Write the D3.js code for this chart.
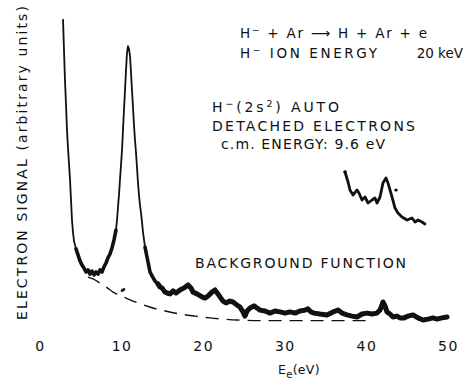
<!DOCTYPE html>
<html>
<head>
<meta charset="utf-8">
<script src="https://cdn.jsdelivr.net/npm/d3@7/dist/d3.min.js"></script>
<style>
  html, body { margin: 0; padding: 0; background: #fff; }
  svg { display: block; }
  text { font-family: "DejaVu Sans", "Liberation Sans", sans-serif; fill: #111; }
</style>
</head>
<body>
<svg id="chart" width="464" height="380"></svg>
<script>
// Electron energy (eV) and electron signal (arbitrary units) of the measured spectrum
const energy = [2.82, 2.94, 3.06, 3.19, 3.31, 3.43, 3.55, 3.68, 3.80, 3.92, 4.04, 4.17, 4.41, 4.66, 4.90, 5.15, 5.39, 5.64, 5.88, 6.13,
  6.37, 6.62, 6.86, 7.11, 7.35, 7.60, 7.84, 8.09, 8.33, 8.58, 8.82, 9.07, 9.31, 9.44, 9.56, 9.68, 9.80, 9.93, 10.05, 10.17,
  10.29, 10.42, 10.54, 10.66, 10.78, 10.91, 11.03, 11.15, 11.27, 11.40, 11.52, 11.64, 11.76, 11.89, 12.01, 12.13, 12.25, 12.38, 12.50, 12.62,
  12.75, 12.87, 12.99, 13.11, 13.24, 13.36, 13.48, 13.73, 14.09, 14.46, 14.71, 14.95, 15.32, 15.56, 15.93, 16.30, 16.67, 17.16, 17.65, 18.14,
  18.50, 18.75, 19.24, 19.85, 20.22, 20.59, 21.08, 21.45, 21.81, 22.06, 22.43, 22.79, 23.28, 23.65, 24.14, 24.51, 24.88, 25.12, 25.37, 25.74,
  26.23, 26.59, 26.96, 27.57, 28.19, 28.80, 29.41, 30.02, 30.64, 31.25, 31.86, 32.48, 32.84, 33.21, 33.58, 34.31, 35.17, 35.91, 36.52, 37.01,
  37.62, 38.24, 38.85, 39.46, 40.07, 40.69, 41.30, 41.67, 41.91, 42.03, 42.28, 42.52, 42.89, 43.26, 43.75, 44.12, 44.61, 45.10, 45.71, 46.32,
  46.94, 47.55, 48.16, 48.65, 49.26, 49.88];
const signal = [100.3, 90.0, 80.0, 71.7, 63.3, 57.3, 52.3, 46.7, 40.0, 33.3, 29.3, 26.3, 23.7, 21.7, 19.7, 18.3, 17.3, 16.0, 16.7, 15.3,
  16.3, 15.0, 16.0, 15.3, 16.7, 16.0, 17.7, 19.0, 20.7, 22.0, 24.0, 26.7, 30.0, 33.3, 37.7, 41.7, 46.7, 51.7, 56.7, 63.3,
  70.0, 76.7, 83.3, 89.0, 91.3, 90.3, 88.0, 82.7, 76.7, 70.7, 65.0, 60.0, 56.0, 50.7, 45.7, 41.7, 38.3, 35.7, 32.7, 29.3,
  26.7, 24.3, 22.7, 21.0, 19.3, 17.7, 16.0, 14.7, 13.0, 12.0, 11.0, 10.7, 9.3, 9.0, 8.7, 9.7, 9.0, 10.0, 10.7, 11.7,
  10.7, 9.3, 8.7, 7.7, 7.3, 8.0, 9.3, 10.0, 8.7, 7.7, 6.3, 5.7, 6.3, 6.0, 5.0, 4.3, 2.7, 1.3, 3.0, 4.0,
  4.7, 4.0, 3.3, 3.0, 2.3, 3.0, 2.7, 2.3, 2.7, 2.3, 3.0, 3.3, 3.7, 2.7, 2.3, 2.0, 1.7, 2.7, 3.3, 2.3,
  1.7, 1.3, 1.0, 2.0, 2.3, 2.0, 2.3, 3.3, 5.0, 6.0, 4.7, 2.7, 2.0, 1.0, 1.3, 0.7, 0.7, 1.3, 1.7, 0.7,
  0.0, 0.3, 0.7, 0.3, 0.7, 1.0];

// Background function (dashed)
const bgEnergy = [5.88, 6.50, 7.35, 8.20, 8.95, 10.0, 11.03, 12.4, 13.85, 15.5, 17.16, 19.0, 20.83, 22.5, 24.14, 27.0, 30.0, 34.0, 37.0, 40.0];
const bgSignal = [14.3, 13.7, 12.3, 10.8, 9.3, 8.0, 6.7, 5.3, 4.0, 2.9, 2.0, 1.3, 0.7, 0.3, 0.0, -0.2, -0.2, -0.2, -0.2, -0.2];

// Magnified view of the 42 eV feature (own signal scale)
const insetEnergy = [37.38, 37.75, 37.99, 38.36, 38.85, 39.09, 39.46, 39.83, 40.20, 40.69, 41.05, 41.30, 41.67, 42.03, 42.40, 42.65, 43.14,
  43.50, 43.87, 44.36, 44.98, 45.59, 45.96, 46.32, 46.81, 47.18];
const insetSignal = [9.67, 8.0, 6.67, 5.83, 6.67, 6.17, 5.0, 5.5, 4.5, 5.0, 5.33, 4.5, 5.5, 7.83, 8.67, 7.83, 5.5,
  3.67, 2.83, 2.17, 1.67, 2.0, 1.33, 1.67, 1.33, 1.0];

const xTicks = [0, 10, 20, 30, 40, 50];

const svg = d3.select("#chart");

const x = d3.scaleLinear().domain([0, 50]).range([40, 448]);
const y = d3.scaleLinear().domain([0, 100]).range([320, 20]);
const yInset = d3.scaleLinear().domain([0, 10]).range([230, 170]);

// X axis: labels only, no axis line or tick marks
const xAxis = svg.append("g")
  .attr("transform", "translate(0,341)")
  .call(d3.axisBottom(x).tickValues(xTicks).tickSize(0).tickPadding(0).tickFormat(d3.format("d")));
xAxis.select(".domain").remove();
xAxis.selectAll("text")
  .style("font-family", "'DejaVu Sans', 'Liberation Sans', sans-serif")
  .style("font-size", "14px")
  .style("letter-spacing", "1.5px")
  .attr("fill", "#111");

// X axis title: E_e (eV)
const xt = svg.append("text")
  .attr("x", 278).attr("y", 374)
  .style("font-size", "12.5px")
  .style("letter-spacing", "0.3px");
xt.append("tspan").text("E");
xt.append("tspan").attr("dy", 4).style("font-size", "10px").text("e");
xt.append("tspan").attr("dy", -4).text("(eV)");

// Y axis title
svg.append("text")
  .attr("transform", "translate(27,163) rotate(-90)")
  .attr("text-anchor", "middle")
  .attr("textLength", 314)
  .attr("lengthAdjust", "spacing")
  .style("font-size", "14px")
  .text("ELECTRON SIGNAL (arbitrary units)");

const pts = energy.map((e, i) => ({ e, s: signal[i] }));
const line = d3.line().x(d => x(d.e)).y(d => y(d.s));

// Background function
svg.append("path")
  .datum(bgEnergy.map((e, i) => ({ e, s: bgSignal[i] })))
  .attr("d", d3.line().x(d => x(d.e)).y(d => y(d.s)).curve(d3.curveMonotoneX))
  .attr("fill", "none")
  .attr("stroke", "#111")
  .attr("stroke-width", 1.4)
  .attr("stroke-dasharray", "13,8");

// Measured spectrum: thin trace for the steep parts
svg.append("path")
  .datum(pts)
  .attr("d", line)
  .attr("fill", "none")
  .attr("stroke", "#111")
  .attr("stroke-width", 1.8)
  .attr("stroke-linejoin", "round");

// Noise band where the count rate is low
const bandSegments = [
  { w: 3.6, d: pts.filter(d => d.e >= 4.3 && d.e <= 9.4) },
  { w: 3.6, d: pts.filter(d => d.e >= 12.8 && d.e <= 14.5) },
  { w: 5, d: pts.filter(d => d.e >= 14.4) }
];
svg.selectAll("path.band")
  .data(bandSegments)
  .join("path")
  .attr("class", "band")
  .attr("d", b => line(b.d))
  .attr("fill", "none")
  .attr("stroke", "#111")
  .attr("stroke-width", b => b.w)
  .attr("stroke-linejoin", "round")
  .attr("stroke-linecap", "round");

// Inset trace
svg.append("path")
  .datum(insetEnergy.map((e, i) => ({ e, s: insetSignal[i] })))
  .attr("d", d3.line().x(d => x(d.e)).y(d => yInset(d.s)))
  .attr("fill", "none")
  .attr("stroke", "#111")
  .attr("stroke-width", 2.8)
  .attr("stroke-linejoin", "round")
  .attr("stroke-linecap", "round");

// Small marks beside the background curve and the inset peak
svg.append("ellipse")
  .attr("cx", x(10.17)).attr("cy", y(10.0))
  .attr("rx", 2.6).attr("ry", 1.5)
  .attr("transform", `rotate(-30,${x(10.17)},${y(10.0)})`)
  .attr("fill", "#111");
svg.append("ellipse")
  .attr("cx", x(43.63)).attr("cy", yInset(6.67))
  .attr("rx", 1.8).attr("ry", 1.6)
  .attr("fill", "#111");
svg.append("circle")
  .attr("cx", x(37.38)).attr("cy", yInset(9.67))
  .attr("r", 1.8)
  .attr("fill", "#111");

// Annotations
function label(xp, yp, len, size) {
  return svg.append("text")
    .attr("x", xp).attr("y", yp)
    .attr("textLength", len)
    .attr("lengthAdjust", "spacing")
    .style("font-size", size + "px");
}

const l1 = label(240, 38, 187, 13.5);
l1.append("tspan").text("H");
l1.append("tspan").attr("dy", -5).style("font-size", "9px").text("\u2212");
l1.append("tspan").attr("dy", 5).text(" + Ar \u27F6 H + Ar + e");

const l2 = label(240, 58, 137, 13.5);
l2.append("tspan").text("H");
l2.append("tspan").attr("dy", -5).style("font-size", "9px").text("\u2212");
l2.append("tspan").attr("dy", 5).text(" ION ENERGY");
svg.append("text").attr("x", 463).attr("y", 58).attr("text-anchor", "end")
  .style("font-size", "13.5px").text("20 keV");

const l3 = label(212, 112, 127, 14);
l3.append("tspan").text("H");
l3.append("tspan").attr("dy", -5).style("font-size", "9.5px").text("\u2212");
l3.append("tspan").attr("dy", 5).text("(2s");
l3.append("tspan").attr("dy", -5).style("font-size", "9.5px").text("2");
l3.append("tspan").attr("dy", 5).text(") AUTO");

label(212, 131, 203, 14).text("DETACHED ELECTRONS");
label(221, 149, 164, 14).text("c.m. ENERGY: 9.6 eV");
label(195, 268, 211, 14).text("BACKGROUND FUNCTION");
</script>
</body>
</html>
